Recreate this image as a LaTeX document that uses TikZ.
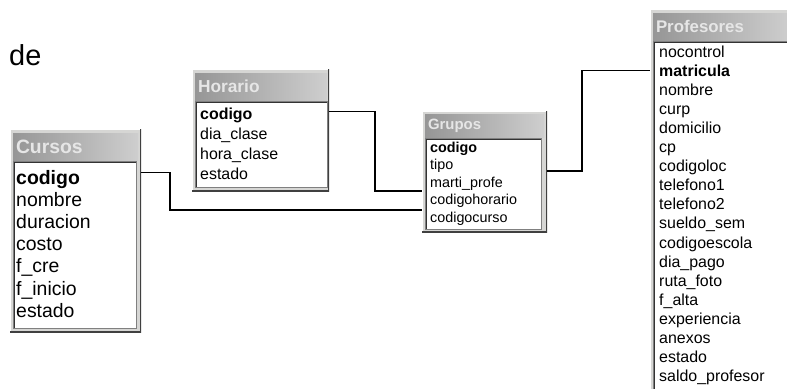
\documentclass[tikz,border=0pt]{standalone}
\usepackage{fontspec}
\setmainfont{Liberation Sans}
\usetikzlibrary{positioning}
\definecolor{winface}{RGB}{214,214,212}
\definecolor{winshadow}{RGB}{64,64,64}
\definecolor{titdark}{RGB}{150,150,150}
\definecolor{titlight}{RGB}{206,206,206}
\definecolor{tittext}{RGB}{230,230,230}
\definecolor{lstedge}{RGB}{128,128,128}

\begin{document}
\begin{tikzpicture}[x=1bp, y=-1bp,
    frm/.style={anchor=north west, inner sep=0pt, outer sep=0pt, fill=winface,
      path picture={
        \draw[white, line width=2bp] (path picture bounding box.south west)
          -- (path picture bounding box.north west) -- (path picture bounding box.north east);
        \draw[winshadow, line width=2.5bp] (path picture bounding box.north east)
          -- (path picture bounding box.south east) -- (path picture bounding box.south west);}},
    tit/.style={inner xsep=3bp, inner ysep=0pt, outer sep=0pt, minimum height=27bp,
      left color=titdark, right color=titlight, text=tittext, align=left},
    lst/.style={inner sep=0pt, outer sep=0pt, fill=white, draw=lstedge, line width=0.8bp,
      path picture={\draw[black!80, line width=3bp] (path picture bounding box.south west)
        -- (path picture bounding box.north west) -- (path picture bounding box.north east);}},
    fld/.style={anchor=base west, inner sep=0pt, text height=0.75em, text depth=0.25em},
    rel/.style={line width=1.5bp, black}
  ]
  \useasboundingbox (0,0) rectangle (787,388);
  \begin{scope}
  \clip (0,0) rectangle (787,388);

  \node[anchor=base west, inner sep=0pt, font=\fontsize{29}{34}\selectfont] (de) at (9,65) {de};

  % Cursos
  \node[frm, minimum width=131bp, minimum height=203bp] (cursos) at (10,129) {};
  \node[tit, text width=119bp, font=\bfseries\fontsize{19.4}{22}\selectfont,
    below right=4bp and 3bp of cursos.north west] (cursosTit) {Cursos};
  \node[lst, minimum width=123bp, minimum height=167bp,
    below right=1bp and 0bp of cursosTit.south west] (cursosLst) {};
  \foreach \f [count=\i from 0] in {\textbf{codigo},nombre,duracion,costo,f\_cre,f\_inicio,estado}
    \node[fld, font=\fontsize{19.5}{22}\selectfont] (cur\i) at (16,{184+22.2*\i}) {\f};

  % Horario
  \node[frm, minimum width=137bp, minimum height=122bp] (horario) at (192,69) {};
  \node[tit, text width=126bp, font=\bfseries\fontsize{17.4}{20}\selectfont,
    below right=4bp and 3bp of horario.north west] (horarioTit) {Horario};
  \node[lst, minimum width=132bp, minimum height=86bp,
    below right=1bp and 0bp of horarioTit.south west] (horarioLst) {};
  \foreach \f [count=\i from 0] in {\textbf{codigo},dia\_clase,hora\_clase,estado}
    \node[fld, font=\fontsize{16}{19}\selectfont] (hor\i) at (200,{119+20*\i}) {\f};

  % Grupos
  \node[frm, minimum width=125bp, minimum height=121bp] (grupos) at (422,111) {};
  \node[tit, text width=113bp, minimum height=23bp, font=\bfseries\fontsize{15}{18}\selectfont,
    below right=3bp and 3bp of grupos.north west] (gruposTit) {Grupos};
  \node[lst, minimum width=116bp, minimum height=91bp,
    below right=1bp and 0bp of gruposTit.south west] (gruposLst) {};
  \foreach \f [count=\i from 0] in {\textbf{codigo},tipo,marti\_profe,codigohorario,codigocurso}
    \node[fld, font=\fontsize{14.4}{17}\selectfont] (gru\i) at (430,{152+17.5*\i}) {\f};

  % Profesores
  \node[frm, minimum width=140bp, minimum height=390bp] (profesores) at (650,9) {};
  \node[tit, text width=131bp, font=\bfseries\fontsize{16.9}{20}\selectfont,
    below right=4bp and 3bp of profesores.north west] (profesoresTit) {Profesores};
  \node[lst, minimum width=137bp, minimum height=350bp,
    below right=1bp and 0bp of profesoresTit.south west] (profesoresLst) {};
  \foreach \f [count=\i from 0] in {nocontrol,\textbf{matricula},nombre,curp,domicilio,cp,
      codigoloc,telefono1,telefono2,sueldo\_sem,codigoescola,dia\_pago,ruta\_foto,
      f\_alta,experiencia,anexos,estado,saldo\_profesor}
    \node[fld, font=\fontsize{16}{19}\selectfont] (pro\i) at (659,{57+19.1*\i}) {\f};

  % relaciones
  \draw[rel] ([yshift=9.1bp]cur0.center -| cursos.east) -- ++(29,0)
    |- ([yshift=9.4bp]gru4.center -| grupos.west);
  \draw[rel] ([yshift=5bp]hor0.center -| horario.east) -- ++(46,0)
    |- ([yshift=10.9bp]gru3.center -| grupos.west);
  \draw[rel] ([yshift=13.4bp]gru2.center -| grupos.east) -- ++(35,0)
    |- ([yshift=3.1bp]pro1.center -| profesores.west);
  \end{scope}
\end{tikzpicture}
\end{document}
